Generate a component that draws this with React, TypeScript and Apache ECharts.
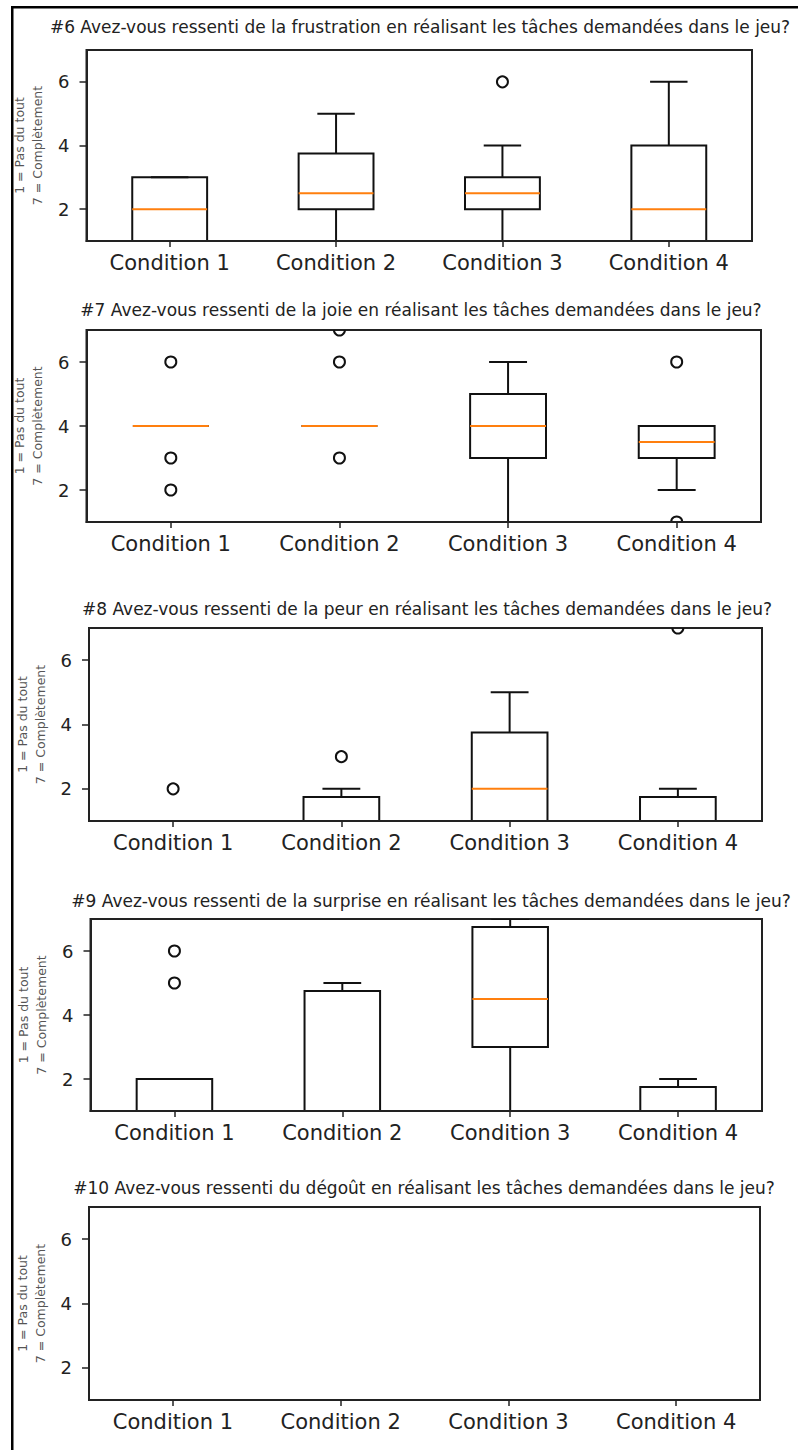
import React, { useEffect, useRef } from "react";
import * as echarts from "echarts";

const categories = ["Condition 1", "Condition 2", "Condition 3", "Condition 4"];
const yTickValues = [2, 4, 6];
const yAxisLabel = "1 = Pas du tout\n7 = Complètement";

const titles = [
  "#6 Avez-vous ressenti de la frustration en réalisant les tâches demandées dans le jeu?",
  "#7 Avez-vous ressenti de la joie en réalisant les tâches demandées dans le jeu?",
  "#8 Avez-vous ressenti de la peur en réalisant les tâches demandées dans le jeu?",
  "#9 Avez-vous ressenti de la surprise en réalisant les tâches demandées dans le jeu?",
  "#10 Avez-vous ressenti du dégoût en réalisant les tâches demandées dans le jeu?",
];

// [low whisker, Q1, median, Q3, high whisker] per condition
const frustrationBoxes = [[1, 1, 2, 3, 3], [1, 2, 2.5, 3.75, 5], [1, 2, 2.5, 3, 4], [1, 1, 2, 4, 6]];
// [condition index, value]
const frustrationOutliers = [[2, 6]];

const joieBoxes = [[4, 4, 4, 4, 4], [4, 4, 4, 4, 4], [1, 3, 4, 5, 6], [2, 3, 3.5, 4, 4]];
const joieOutliers = [[0, 6], [0, 3], [0, 2], [1, 7], [1, 6], [1, 3], [3, 6], [3, 1]];

const peurBoxes = [[1, 1, 1, 1, 1], [1, 1, 1, 1.75, 2], [1, 1, 2, 3.75, 5], [1, 1, 1, 1.75, 2]];
const peurOutliers = [[0, 2], [1, 3], [3, 7]];

const surpriseBoxes = [[1, 1, 1, 2, 2], [1, 1, 1, 4.75, 5], [1, 3, 4.5, 6.75, 7], [1, 1, 1, 1.75, 2]];
const surpriseOutliers = [[0, 6], [0, 5]];

const degoutBoxes = [[1, 1, 1, 1, 1], [1, 1, 1, 1, 1], [1, 1, 1, 1, 1], [1, 1, 1, 1, 1]];
const degoutOutliers: number[][] = [];

const panelBoxes = [frustrationBoxes, joieBoxes, peurBoxes, surpriseBoxes, degoutBoxes];
const panelOutliers = [frustrationOutliers, joieOutliers, peurOutliers, surpriseOutliers, degoutOutliers];

// layout (pixels)
const layout = [
  { left: 86.5, top: 50, width: 665.5, height: 191, tx: 420, ty: 27 },
  { left: 86.5, top: 330, width: 674.5, height: 192, tx: 421, ty: 310 },
  { left: 89, top: 628, width: 673, height: 193, tx: 427, ty: 609 },
  { left: 90.5, top: 919, width: 671.5, height: 192, tx: 431, ty: 901 },
  { left: 89, top: 1207, width: 671, height: 193, tx: 424, ty: 1188 },
];

const FONT = "DejaVu Sans";
const LW = 2;

const renderBox = (params: any, api: any) => {
  const idx = api.value(0);
  const low = api.coord([idx, api.value(1)]);
  const q1 = api.coord([idx, api.value(2)]);
  const med = api.coord([idx, api.value(3)]);
  const q3 = api.coord([idx, api.value(4)]);
  const high = api.coord([idx, api.value(5)]);
  const band = api.size([1, 0])[0];
  const half = (band * 0.45) / 2;
  const cap = half / 2;
  const cx = low[0];
  const st = { stroke: "#111", lineWidth: LW, fill: null };
  return {
    type: "group",
    children: [
      { type: "line", shape: { x1: cx, y1: q1[1], x2: cx, y2: low[1] }, style: st },
      { type: "line", shape: { x1: cx, y1: q3[1], x2: cx, y2: high[1] }, style: st },
      { type: "line", shape: { x1: cx - cap, y1: low[1], x2: cx + cap, y2: low[1] }, style: st },
      { type: "line", shape: { x1: cx - cap, y1: high[1], x2: cx + cap, y2: high[1] }, style: st },
      {
        type: "polygon",
        shape: {
          points: [
            [cx - half, q1[1]],
            [cx + half, q1[1]],
            [cx + half, q3[1]],
            [cx - half, q3[1]],
          ],
        },
        style: { stroke: "#111", lineWidth: LW, fill: "none" },
      },
      {
        type: "line",
        shape: { x1: cx - half, y1: med[1], x2: cx + half, y2: med[1] },
        style: { stroke: "#ff7f0e", lineWidth: LW },
      },
    ],
  };
};

const renderOutlier = (params: any, api: any) => {
  const p = api.coord([api.value(0), api.value(1)]);
  return {
    type: "circle",
    shape: { cx: p[0], cy: p[1], r: 5.5 },
    style: { stroke: "#111", lineWidth: LW, fill: "none" },
  };
};

export default function App() {
  const ref = useRef<HTMLDivElement>(null);
  useEffect(() => {
    if (!ref.current) return;
    const chart = echarts.init(ref.current, undefined, { renderer: "svg" });
    const grids: any[] = [];
    const xAxes: any[] = [];
    const yAxes: any[] = [];
    const series: any[] = [];
    const graphics: any[] = [
      { type: "rect", shape: { x: 11, y: 6, width: 787, height: 2.5 }, style: { fill: "#000" } },
      { type: "rect", shape: { x: 11, y: 6, width: 2.5, height: 1444 }, style: { fill: "#000" } },
    ];
    layout.forEach((l, i) => {
      grids.push({
        left: l.left,
        top: l.top,
        width: l.width,
        height: l.height,
        show: true,
        borderColor: "#222",
        borderWidth: LW,
        backgroundColor: "#fff",
        containLabel: false,
      });
      xAxes.push({
        gridIndex: i,
        type: "category",
        data: categories,
        z: 5,
        axisLine: { show: true, lineStyle: { color: "#222", width: LW } },
        axisTick: { show: true, alignWithLabel: true, length: 6, lineStyle: { color: "#222", width: 1.5 } },
        axisLabel: { fontSize: 21, color: "#222", margin: 11, fontFamily: FONT },
        splitLine: { show: false },
      });
      yAxes.push({
        gridIndex: i,
        type: "value",
        min: 1,
        max: 7,
        axisLine: { show: true, lineStyle: { color: "#222", width: LW } },
        axisTick: { show: true, length: 7, customValues: yTickValues, lineStyle: { color: "#222", width: 1.5 } },
        axisLabel: { customValues: yTickValues, fontSize: 18, color: "#222", margin: 17, fontFamily: FONT },
        splitLine: { show: false },
        name: yAxisLabel,
        nameLocation: "middle",
        nameRotate: 90,
        nameGap: 40,
        nameTextStyle: { fontSize: 12.5, color: "#555", lineHeight: 18, fontFamily: FONT, align: "center" },
      });
      series.push({
        type: "custom",
        xAxisIndex: i,
        yAxisIndex: i,
        clip: true,
        renderItem: renderBox,
        encode: { x: 0, y: [1, 2, 3, 4, 5] },
        data: panelBoxes[i].map((b, k) => [k, ...b]),
      });
      series.push({
        type: "custom",
        xAxisIndex: i,
        yAxisIndex: i,
        clip: true,
        renderItem: renderOutlier,
        encode: { x: 0, y: 1 },
        data: panelOutliers[i],
      });
      graphics.push({
        type: "text",
        x: l.tx,
        y: l.ty,
        style: {
          text: titles[i],
          fontSize: 17,
          fontFamily: FONT,
          fill: "#222",
          textAlign: "center",
          textVerticalAlign: "middle",
        },
      });
    });
    chart.setOption({
      animation: false,
      backgroundColor: "#fff",
      grid: grids,
      xAxis: xAxes,
      yAxis: yAxes,
      series,
      graphic: graphics,
    });
    return () => chart.dispose();
  }, []);
  return (
    <div
      ref={ref}
      style={{ position: "absolute", left: 0, top: 0, width: 798, height: 1450 }}
    />
  );
}
